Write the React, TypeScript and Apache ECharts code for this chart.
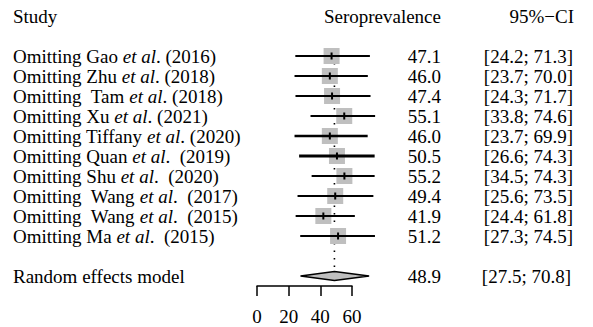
import React, { useEffect, useRef } from "react";
import * as echarts from "echarts";

// ---- data ----
const studyLabels = [
  "Omitting Gao {i|et al}. (2016)",
  "Omitting Zhu {i|et al}. (2018)",
  "Omitting  Tam {i|et al}. (2018)",
  "Omitting Xu {i|et al}. (2021)",
  "Omitting Tiffany {i|et al}. (2020)",
  "Omitting Quan {i|et al}.  (2019)",
  "Omitting Shu {i|et al}.  (2020)",
  "Omitting  Wang {i|et al}.  (2017)",
  "Omitting  Wang {i|et al}.  (2015)",
  "Omitting Ma {i|et al}.  (2015)",
];
const estimates = [47.1, 46.0, 47.4, 55.1, 46.0, 50.5, 55.2, 49.4, 41.9, 51.2];
const lowerCI = [24.2, 23.7, 24.3, 33.8, 23.7, 26.6, 34.5, 25.6, 24.4, 27.3];
const upperCI = [71.3, 70.0, 71.7, 74.6, 69.9, 74.3, 74.3, 73.5, 61.8, 74.5];
const lineWidths = [2, 2, 2, 2, 2.6, 2.8, 2, 2, 2, 2];
const summaryLabel = "Random effects model";
const summaryEstimate = 48.9;
const summaryLower = 27.5;
const summaryUpper = 70.8;
const tickValues = [0, 20, 40, 60];
const headers = { study: "Study", effect: "Seroprevalence", ci: "95%\u2212CI" };

// ---- layout ----
const FONT = "Liberation Serif";
const FS = 19;
const ROW_H = 20;
const GRID_TOP = 16;
const ROW_MIN = -1;
const ROW_MAX = 12;
const SUMMARY_ROW = 12;
const X_LEFT = 257;
const AXIS_W = 95; // width for 0..60
const X_MAX = 80;
const LABEL_X = 13;
const EST_RIGHT = 441;
const CI_RIGHT = 573;
const SUM_CI_RIGHT = 571;
const GREY = "#bfbfbf";

const txt = (text: string, align: string, extra: any = {}) => ({
  text,
  fontFamily: FONT,
  fontSize: FS,
  fill: "#000",
  align,
  verticalAlign: "middle",
  ...extra,
});
const makeRich = () => ({ i: { fontFamily: FONT, fontSize: FS, fontStyle: "italic", fill: "#000" } });

export default function App() {
  const ref = useRef<HTMLDivElement>(null);
  useEffect(() => {
    if (!ref.current) return;
    const chart = echarts.init(ref.current, null, { renderer: "svg" });
    const tickMax = tickValues[tickValues.length - 1];
    const dataWidth = (AXIS_W * X_MAX) / tickMax;

    const studyData = estimates.map((e, i) => [e, i + 1, lowerCI[i], upperCI[i], i]);

    const option: any = {
      animation: false,
      textStyle: { fontFamily: FONT },
      grid: [
        { left: X_LEFT, top: GRID_TOP, width: dataWidth, height: (ROW_MAX - ROW_MIN) * ROW_H },
        { left: X_LEFT, top: GRID_TOP + (ROW_MAX - ROW_MIN) * ROW_H, width: AXIS_W, height: 10 },
      ],
      xAxis: [
        { type: "value", gridIndex: 0, min: 0, max: X_MAX, show: false },
        {
          type: "value",
          gridIndex: 1,
          min: tickValues[0],
          max: tickMax,
          interval: tickValues[1] - tickValues[0],
          position: "bottom",
          splitLine: { show: false },
          axisLine: { show: true, lineStyle: { color: "#000", width: 1.5 } },
          axisTick: { show: true, length: 10, lineStyle: { color: "#000", width: 1.5 } },
          axisLabel: { margin: 21, color: "#000", fontFamily: FONT, fontSize: FS },
        },
      ],
      yAxis: [
        { type: "value", gridIndex: 0, min: ROW_MIN, max: ROW_MAX, inverse: true, show: false },
        { type: "value", gridIndex: 1, show: false },
      ],
      graphic: [
        { type: "text", x: LABEL_X, y: GRID_TOP, style: txt(headers.study, "left") },
        { type: "text", x: EST_RIGHT, y: GRID_TOP, style: txt(headers.effect, "right") },
        { type: "text", x: CI_RIGHT + 1, y: GRID_TOP, style: txt(headers.ci, "right") },
      ],
      series: [
        {
          type: "custom",
          xAxisIndex: 0,
          yAxisIndex: 0,
          z: 1,
          data: [[summaryEstimate, SUMMARY_ROW]],
          renderItem: (params: any, api: any) => {
            const top = api.coord([api.value(0), 0.6]);
            const bot = api.coord([api.value(0), api.value(1) - 0.2]);
            return {
              type: "line",
              shape: { x1: top[0], y1: top[1], x2: bot[0], y2: bot[1] },
              style: { stroke: "#000", lineWidth: 1.6, lineDash: [1.5, 6] },
            };
          },
        },
        {
          type: "custom",
          xAxisIndex: 0,
          yAxisIndex: 0,
          z: 2,
          data: studyData,
          renderItem: (params: any, api: any) => {
            const e = api.value(0);
            const row = api.value(1);
            const lo = api.value(2);
            const hi = api.value(3);
            const idx = api.value(4);
            const c = api.coord([e, row]);
            const l = api.coord([lo, row]);
            const h = api.coord([hi, row]);
            const s = 16;
            return {
              type: "group",
              children: [
                { type: "rect", shape: { x: c[0] - s / 2, y: c[1] - s / 2, width: s, height: s }, style: { fill: GREY } },
                { type: "line", shape: { x1: l[0], y1: c[1], x2: h[0], y2: c[1] }, style: { stroke: "#000", lineWidth: lineWidths[idx] } },
                { type: "line", shape: { x1: c[0], y1: c[1] - 3.5, x2: c[0], y2: c[1] + 3.5 }, style: { stroke: "#000", lineWidth: 2 } },
                { type: "text", x: LABEL_X, y: c[1], style: txt(studyLabels[idx], "left", { rich: makeRich() }) },
                { type: "text", x: EST_RIGHT, y: c[1], style: txt(e.toFixed(1), "right") },
                { type: "text", x: CI_RIGHT, y: c[1], style: txt(`[${lo.toFixed(1)}; ${hi.toFixed(1)}]`, "right") },
              ],
            };
          },
        },
        {
          type: "custom",
          xAxisIndex: 0,
          yAxisIndex: 0,
          z: 3,
          data: [[summaryEstimate, SUMMARY_ROW, summaryLower, summaryUpper]],
          renderItem: (params: any, api: any) => {
            const e = api.value(0);
            const row = api.value(1);
            const lo = api.value(2);
            const hi = api.value(3);
            const c = api.coord([e, row]);
            const l = api.coord([lo, row]);
            const h = api.coord([hi, row]);
            const hh = 4.5;
            return {
              type: "group",
              children: [
                {
                  type: "polygon",
                  shape: { points: [[l[0], c[1]], [c[0], c[1] - hh], [h[0], c[1]], [c[0], c[1] + hh]] },
                  style: { fill: GREY, stroke: "#000", lineWidth: 1.6 },
                },
                { type: "text", x: LABEL_X, y: c[1], style: txt(summaryLabel, "left") },
                { type: "text", x: EST_RIGHT, y: c[1], style: txt(e.toFixed(1), "right") },
                { type: "text", x: SUM_CI_RIGHT, y: c[1], style: txt(`[${lo.toFixed(1)}; ${hi.toFixed(1)}]`, "right") },
              ],
            };
          },
        },
      ],
    };
    chart.setOption(option);
    return () => chart.dispose();
  }, []);
  return <div ref={ref} style={{ position: "absolute", left: 0, top: 0, width: 593, height: 327 }} />;
}
